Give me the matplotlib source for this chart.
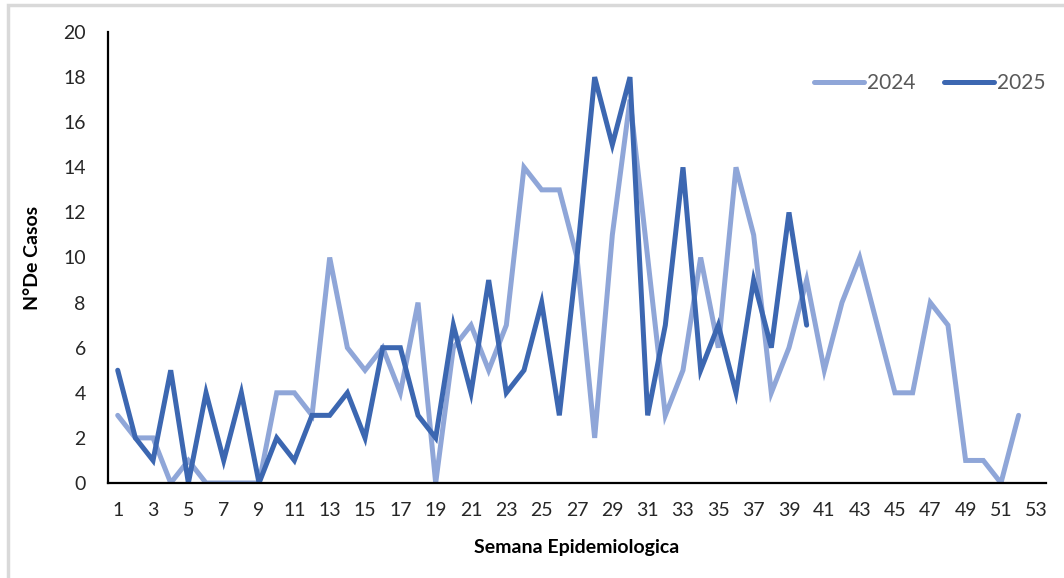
import matplotlib.pyplot as plt
from matplotlib.patches import Rectangle

# Weekly case counts
weeks_2024 = list(range(1, 53))
cases_2024 = [3, 2, 2, 0, 1, 0, 0, 0, 0, 4, 4, 3, 10, 6, 5, 6, 4, 8, 0, 6,
              7, 5, 7, 14, 13, 13, 10, 2, 11, 17, 10, 3, 5, 10, 6, 14, 11, 4, 6, 9,
              5, 8, 10, 7, 4, 4, 8, 7, 1, 1, 0, 3]
weeks_2025 = list(range(1, 41))
cases_2025 = [5, 2, 1, 5, 0, 4, 1, 4, 0, 2, 1, 3, 3, 4, 2, 6, 6, 3, 2, 7,
              4, 9, 4, 5, 8, 3, 10, 18, 15, 18, 3, 7, 14, 5, 7, 4, 9, 6, 12, 7]
x_ticks = list(range(1, 54, 2))
y_ticks = list(range(0, 21, 2))

plt.rcParams['font.family'] = ['Lato', 'DejaVu Sans']

fig = plt.figure(figsize=(10.64, 5.78), dpi=100)
ax = fig.add_axes([108 / 1064, 1 - 483 / 578, (1046 - 108) / 1064, (483 - 32) / 578])

# Light grey frame around the chart area
fig.patches.append(Rectangle((8 / 1064, -0.1), 1.2, 1 - 5 / 578 + 0.1,
                             transform=fig.transFigure, fill=False,
                             edgecolor='#d9d9d9', linewidth=2.5))

ax.plot(weeks_2024, cases_2024, color='#8fa6d8', lw=3.6, label='2024',
        solid_capstyle='round', solid_joinstyle='miter')
ax.plot(weeks_2025, cases_2025, color='#3c67b1', lw=3.6, label='2025',
        solid_capstyle='round', solid_joinstyle='miter')

ax.set_xlim(0.45, 53.55)
ax.set_ylim(0, 20)
ax.set_xticks(x_ticks)
ax.set_yticks(y_ticks)
ax.tick_params(axis='both', length=0, labelsize=14, colors='#262626')
ax.tick_params(axis='x', pad=14)
ax.tick_params(axis='y', pad=16)

for side in ['top', 'right']:
    ax.spines[side].set_visible(False)
ax.spines['left'].set_linewidth(1.6)
ax.spines['bottom'].set_linewidth(1.6)

ax.set_ylabel('N°De Casos', fontsize=14, fontweight='bold', labelpad=16)
ax.set_xlabel('Semana Epidemiologica', fontsize=14, fontweight='bold', labelpad=14)

leg = ax.legend(loc='center right', bbox_to_anchor=(1.0, 0.887), ncol=2, frameon=False,
                fontsize=15, handlelength=2.4, handletextpad=0.15, columnspacing=1.4,
                borderaxespad=0, borderpad=0)
for t in leg.get_texts():
    t.set_color('#595959')

fig.savefig('out.png', dpi=100)
